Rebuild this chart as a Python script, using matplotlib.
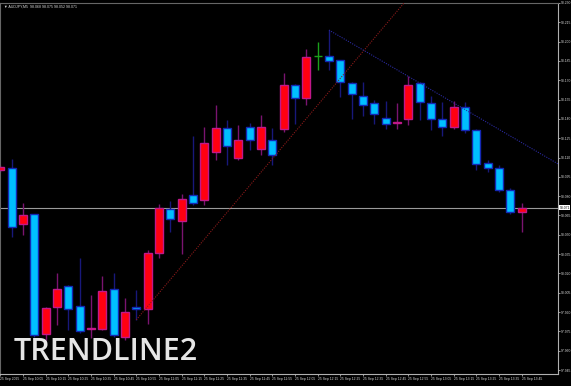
import numpy as np
import matplotlib
matplotlib.use("Agg")
import matplotlib.pyplot as plt

# AUDJPY M5 candles, 25 Sep 2025, 09:55 .. 13:45
opens = [98.100, 98.102, 98.058, 98.066, 97.973, 97.994, 98.010, 97.995, 97.977, 97.977,
         98.008, 97.971, 97.994, 97.992, 98.036, 98.070, 98.061, 98.081, 98.077, 98.114,
         98.133, 98.110, 98.1335, 98.117, 98.1235, 98.132, 98.166, 98.156, 98.189, 98.189,
         98.186, 98.168, 98.158, 98.152, 98.141, 98.137, 98.140, 98.168, 98.152, 98.140,
         98.134, 98.149, 98.131, 98.106, 98.102, 98.085, 98.068]
highs = [98.104, 98.109, 98.075, 98.066, 97.994, 98.020, 98.011, 98.032, 98.003, 98.018,
         98.020, 98.001, 98.007, 98.038, 98.074, 98.076, 98.082, 98.127, 98.1335, 98.151,
         98.139, 98.135, 98.137, 98.143, 98.133, 98.176, 98.167, 98.194, 98.200, 98.209,
         98.186, 98.169, 98.169, 98.155, 98.154, 98.152, 98.173, 98.169, 98.158, 98.153,
         98.154, 98.153, 98.132, 98.108, 98.104, 98.086, 98.075]
lows = [98.099, 98.048, 98.050, 97.971, 97.968, 97.980, 97.976, 97.974, 97.970, 97.976,
        97.971, 97.968, 97.984, 97.981, 98.032, 98.052, 98.035, 98.073, 98.073, 98.108,
        98.104, 98.108, 98.116, 98.112, 98.104, 98.130, 98.136, 98.151, 98.178, 98.178,
        98.157, 98.140, 98.142, 98.136, 98.132, 98.132, 98.135, 98.139, 98.131, 98.127,
        98.132, 98.129, 98.100, 98.099, 98.083, 98.066, 98.052]
closes = [98.103, 98.056, 98.065, 97.972, 97.993, 98.008, 97.992, 97.975, 97.9773, 98.006,
          97.972, 97.990, 97.992, 98.036, 98.071, 98.062, 98.078, 98.075, 98.121, 98.133,
          98.119, 98.1235, 98.1235, 98.134, 98.112, 98.166, 98.156, 98.188, 98.189, 98.185,
          98.169, 98.159, 98.151, 98.144, 98.136, 98.1373, 98.166, 98.153, 98.140, 98.134,
          98.149, 98.131, 98.105, 98.102, 98.085, 98.068, 98.071]

time_labels = ["25 Sep 2025", "25 Sep 10:05", "25 Sep 10:15", "25 Sep 10:25", "25 Sep 10:35",
               "25 Sep 10:45", "25 Sep 10:55", "25 Sep 11:05", "25 Sep 11:15", "25 Sep 11:25",
               "25 Sep 11:35", "25 Sep 11:45", "25 Sep 11:55", "25 Sep 12:05", "25 Sep 12:15",
               "25 Sep 12:25", "25 Sep 12:35", "25 Sep 12:45", "25 Sep 12:55", "25 Sep 13:05",
               "25 Sep 13:15", "25 Sep 13:25", "25 Sep 13:35", "25 Sep 13:45"]
price_ticks = [97.945, 97.960, 97.975, 97.990, 98.005, 98.020, 98.035, 98.050, 98.065, 98.080,
               98.095, 98.110, 98.125, 98.140, 98.155, 98.170, 98.185, 98.200, 98.215, 98.230]
last_price = 98.071
title = "AUDJPY,M5  98.068 98.075 98.052 98.071"

# trendlines: (bar, price) anchors
up_line = [(12, 97.984), (34.21, 98.2153)]
down_line = [(29, 98.209), (36, 98.173)]

small = "Liberation Sans"

W, H = 571, 386
fig = plt.figure(figsize=(W / 100, H / 100), dpi=100, facecolor="black")
ax = fig.add_axes([0, 12 / H, 558 / W, 371 / H], facecolor="black")

x = np.arange(len(opens))
o = np.array(opens); c = np.array(closes); h = np.array(highs); l = np.array(lows)
up = c > o
down = c < o
flat = c == o

# wicks
ax.vlines(x[up], l[up], h[up], color="#7a1470", lw=1.0, zorder=2)
ax.vlines(x[down], l[down], h[down], color="#18187a", lw=1.0, zorder=2)
ax.vlines(x[flat], l[flat], h[flat], color="#1aa01a", lw=1.0, zorder=2)
ax.hlines(o[flat], x[flat] - 0.35, x[flat] + 0.35, color="#1aa01a", lw=1.0, zorder=3)

# bodies
ax.bar(x[up], c[up] - o[up], bottom=o[up], width=0.7, color="#ff0010",
       edgecolor="#c0188a", linewidth=1.0, zorder=3)
ax.bar(x[down], o[down] - c[down], bottom=c[down], width=0.7, color="#00bfff",
       edgecolor="#1428b4", linewidth=1.0, zorder=3)

# current price line
ax.axhline(last_price, color="#9a9a9a", lw=0.8, zorder=1)

# trendlines (rays)
(x1, y1), (x2, y2) = up_line
s = (y2 - y1) / (x2 - x1)
ax.plot([x1, x1 + 30], [y1, y1 + 30 * s], color="#8b1a1a", lw=0.8, ls=(0, (1, 1.2)), zorder=4)
(x1, y1), (x2, y2) = down_line
s = (y2 - y1) / (x2 - x1)
ax.plot([x1, 52], [y1, y1 + (52 - x1) * s], color="#2a2aa0", lw=0.8, ls=(0, (1, 1.2)), zorder=4)

ax.set_xlim(-0.026, 49.21)
ax.set_ylim(97.9419, 98.2298)

# axes frame
for side in ["left", "top"]:
    ax.spines[side].set_color("#666666")
    ax.spines[side].set_linewidth(0.8)
for side in ["right", "bottom"]:
    ax.spines[side].set_color("#b0b0b0")
    ax.spines[side].set_linewidth(0.8)

ax.yaxis.tick_right()
ax.set_yticks(price_ticks)
ax.set_yticklabels([f"{p:.3f}" for p in price_ticks], family=small)
ax.tick_params(axis="y", colors="#b0b0b0", labelcolor="#d8d8d8", labelsize=2.4,
               length=1.5, width=0.6, pad=0.5)
ax.set_xticks(x[::2])
ax.set_xticklabels(time_labels, family=small)
ax.tick_params(axis="x", colors="#b0b0b0", labelcolor="#d8d8d8", labelsize=2.4,
               length=1.5, width=0.6, pad=0.8)
for t in ax.get_xticklabels():
    t.set_horizontalalignment("left")

# last price marker on the scale
ax.annotate(f"{last_price:.3f}", xy=(1.0, last_price), xycoords=("axes fraction", "data"),
            xytext=(1.2, 0), textcoords="offset points", fontsize=2.4, color="black",
            family=small, va="center", ha="left",
            bbox=dict(boxstyle="square,pad=0.1", fc="white", ec="none"))

fig.text(4 / W, 1 - 7 / H, "\u25bc " + title, fontsize=2.6, color="#d8d8d8", va="center",
         family=[small, "DejaVu Sans"])
fig.text(14 / W, 1 - 360 / H, "TRENDLINE2", fontsize=22, color="#e6e6e6",
         family="Open Sans", fontweight="semibold", va="baseline")

fig.savefig("out.png", dpi=100, facecolor="black")
